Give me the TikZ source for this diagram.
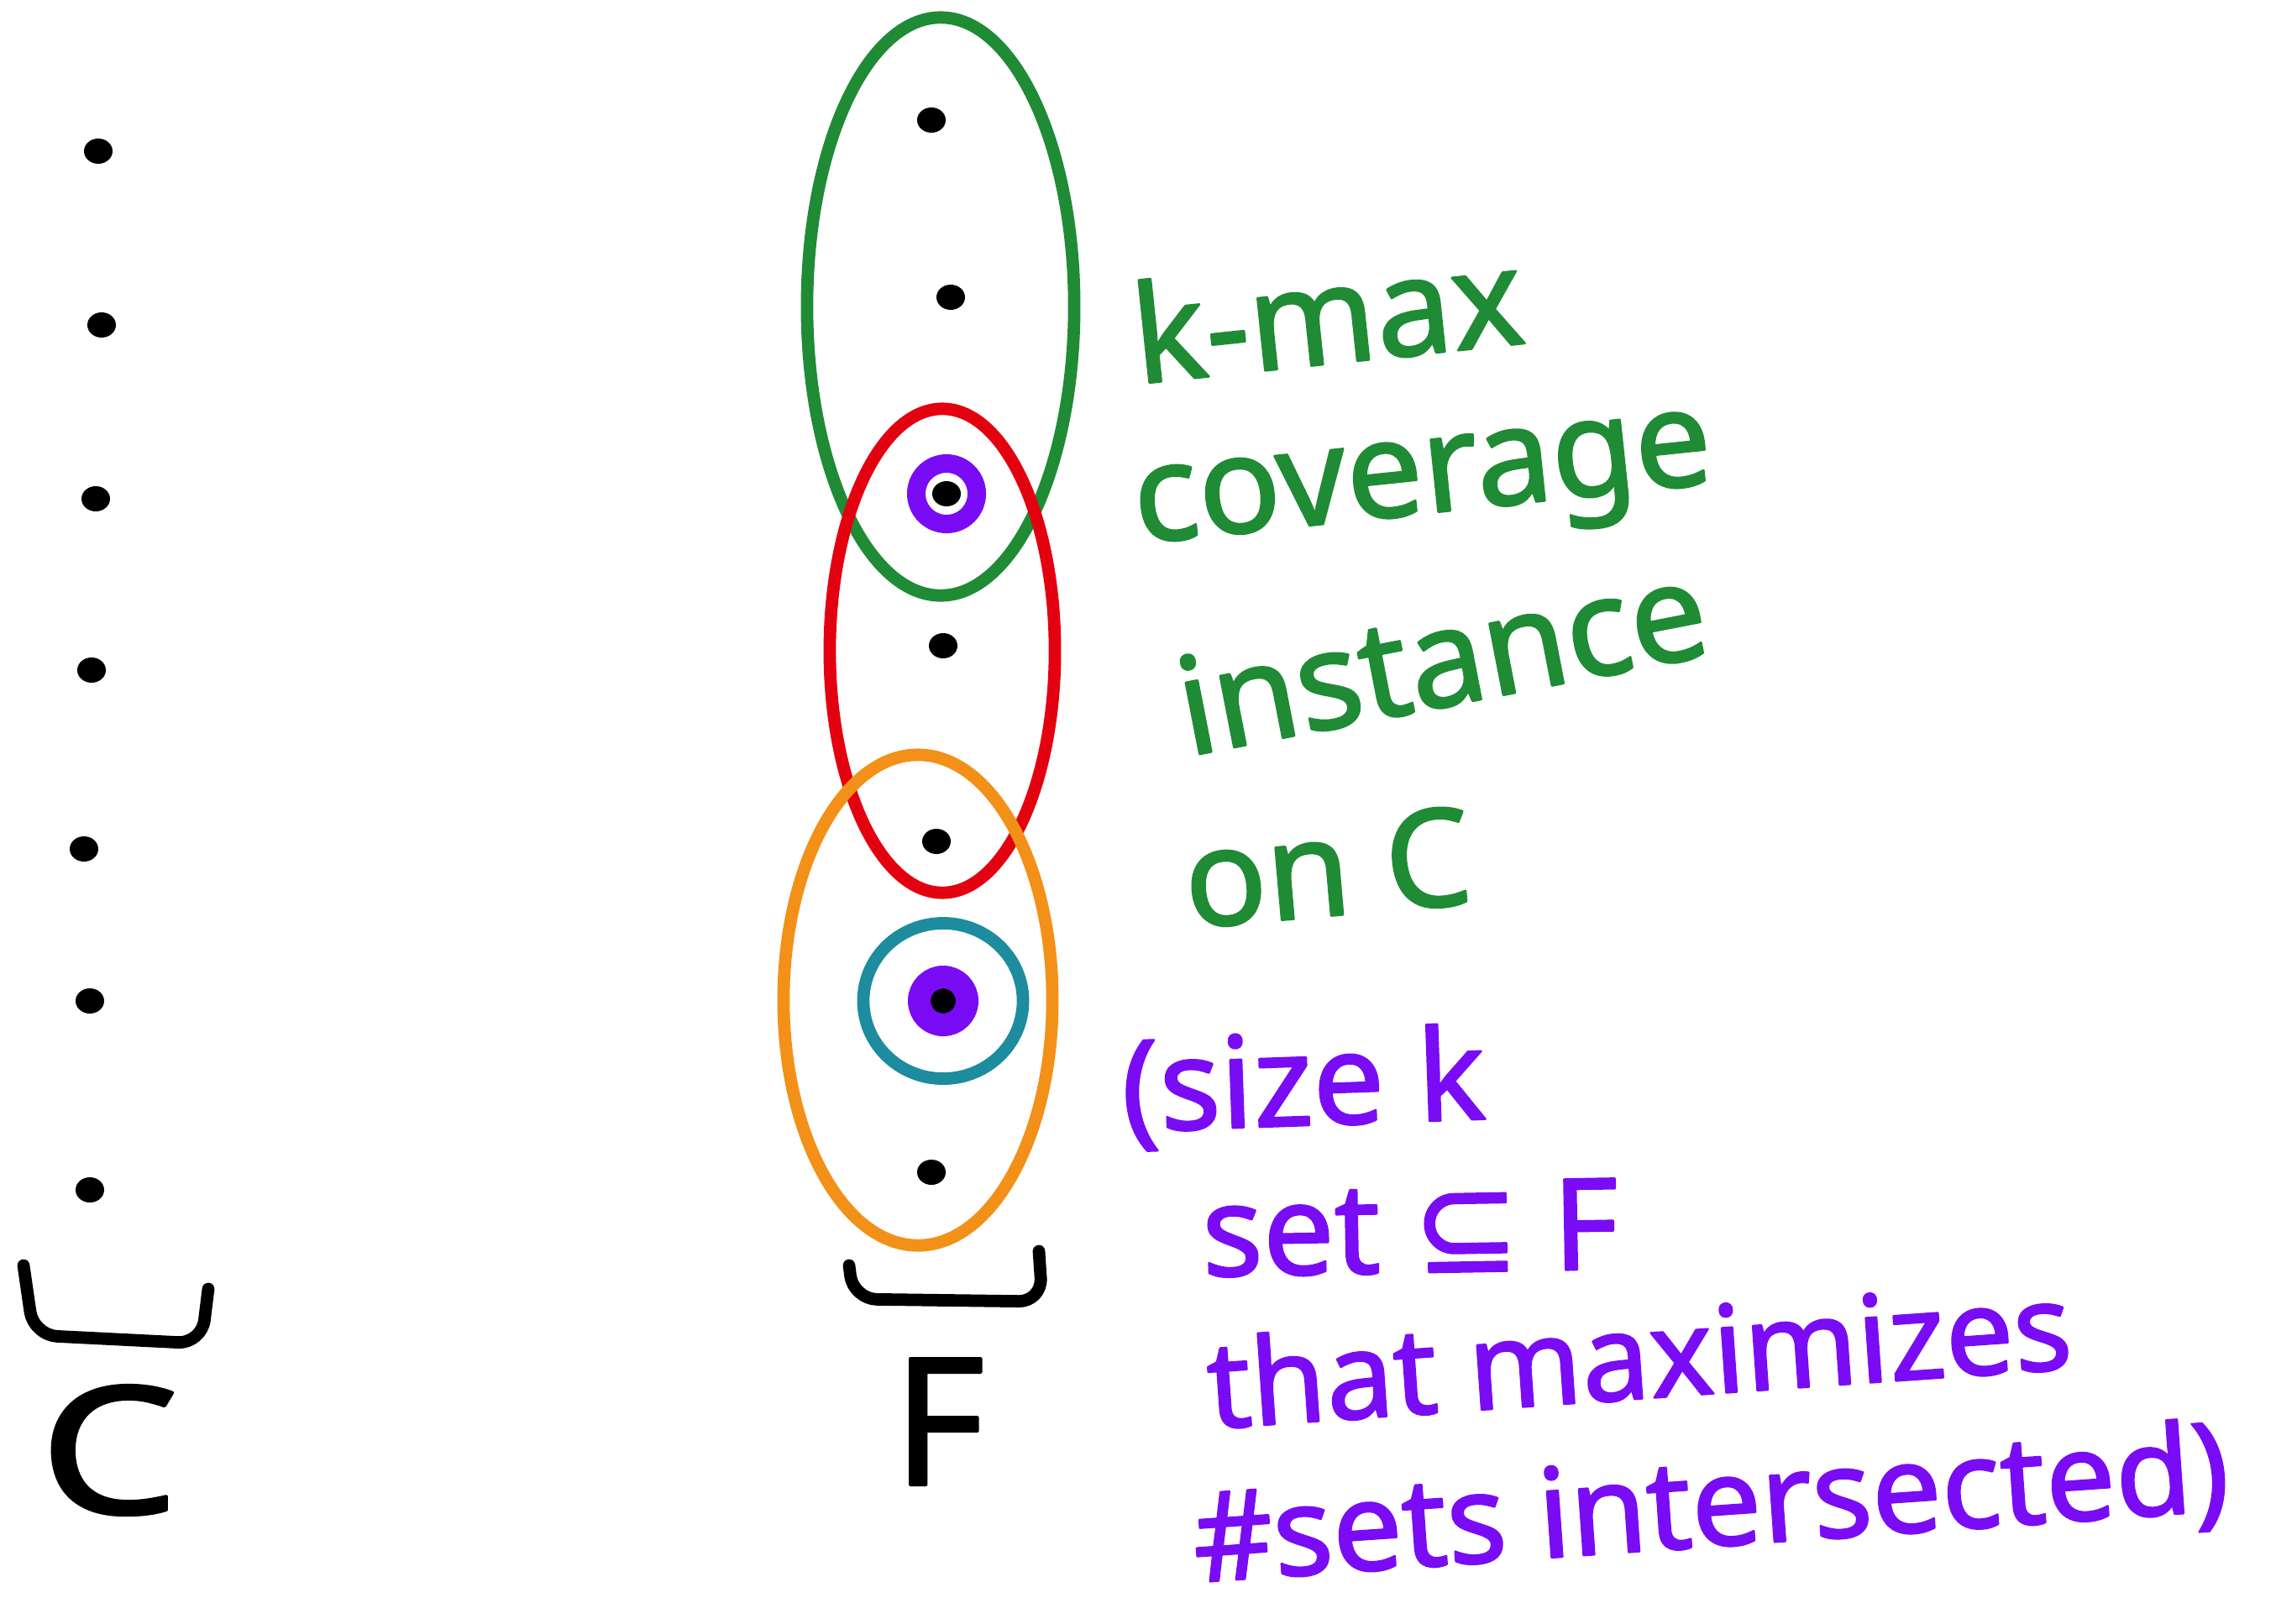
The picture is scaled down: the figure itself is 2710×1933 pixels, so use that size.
\documentclass[tikz,border=0pt]{standalone}
\usepackage{fontspec}
\setmainfont{Noto Sans}
\newfontfamily\handfont[FakeBold=1.6]{Noto Sans}
\newfontfamily\dvsym[FakeBold=1.6]{DejaVu Sans}
\usetikzlibrary{shapes.geometric}
\definecolor{cgreen}{HTML}{1F8B35}
\definecolor{cred}{HTML}{E3000F}
\definecolor{corange}{HTML}{F39018}
\definecolor{cteal}{HTML}{1C8C9E}
\definecolor{cviolet}{HTML}{7A0BF5}
\tikzset{
  every picture/.style={line width=4pt, line cap=round, line join=round},
  dot/.style={ellipse, fill=black, inner sep=0pt, minimum width=0.34cm, minimum height=0.3cm},
  blob/.style={draw=#1, ellipse, inner sep=0pt, line width=4.2pt},
  ring/.style={circle, draw=cviolet, inner sep=0pt, line width=0.22cm, minimum size=0.72cm},
  brace/.style={draw=black, line width=4.2pt, rounded corners=8pt},
  hand/.style={font=\handfont\fontsize{46}{52}\selectfont, text=#1, anchor=base west, inner sep=0pt},
  big/.style={font=\handfont\fontsize{60}{66}\selectfont, inner sep=0pt},
}
\begin{document}
\begin{tikzpicture}[x=0.01cm, y=0.01cm]
  \useasboundingbox (0,0) rectangle (2710,-1933);
  % ground set C
  \foreach \x/\y [count=\i] in {117/180, 121/387, 114/594, 109/798, 100/1011, 107/1192, 107/1417}
    \node[dot] (c\i) at (\x,-\y) {};
  \draw[brace] (28,-1507) -- (40,-1590) -- (240,-1600) -- (248,-1535);
  \node[big, xscale=1.25] (clabel) at (130,-1727) {C};
  % family F
  \foreach \x/\y [count=\i] in {1109/143, 1132/354, 1127/588, 1123/769, 1115/1002, 1123/1192, 1109/1396}
    \node[dot] (f\i) at (\x,-\y) {};
  \node[blob=cgreen, minimum width=3.18cm, minimum height=6.88cm] (gset) at (1120,-365) {};
  \node[blob=cred, minimum width=2.68cm, minimum height=5.76cm] (rset) at (1122,-775) {};
  \node[blob=corange, minimum width=3.2cm, minimum height=5.84cm] (oset) at (1093,-1191) {};
  \node[blob=cteal, minimum width=1.9cm, minimum height=1.85cm] (tset) at (f6) {};
  \node[ring] (pick1) at (f3) {};
  \node[ring, line width=0.27cm, minimum size=0.57cm] (pick2) at (f6) {};
  \draw[brace] (1011,-1507) -- (1016,-1547) -- (1241,-1550) -- (1237,-1490);
  \node[big] (flabel) at (1118,-1693) {F};
  % green notes
  \node[hand=cgreen, rotate=6] (kmax) at (1348,-458) {k-max};
  \node[hand=cgreen, rotate=6] (cover) at (1348,-648) {coverage};
  \node[hand=cgreen, rotate=11] (inst) at (1408,-902) {instance};
  \node[hand=cgreen, rotate=5] (onc) at (1408,-1106) {on C};
  % violet notes
  \node[hand=cviolet, font=\handfont\fontsize{43}{50}\selectfont, rotate=2] (size) at (1330,-1348) {(size k};
  \node[hand=cviolet, font=\handfont\fontsize{43}{50}\selectfont, rotate=1] (subset) at (1425,-1520) {set {\dvsym ⊆} F};
  \node[hand=cviolet, font=\handfont\fontsize{41}{48}\selectfont, rotate=4] (maxim) at (1434,-1702) {that maximizes};
  \node[hand=cviolet, font=\handfont\fontsize{42}{50}\selectfont, rotate=4] (inter) at (1417,-1885) {\#sets intersected)};
\end{tikzpicture}
\end{document}
